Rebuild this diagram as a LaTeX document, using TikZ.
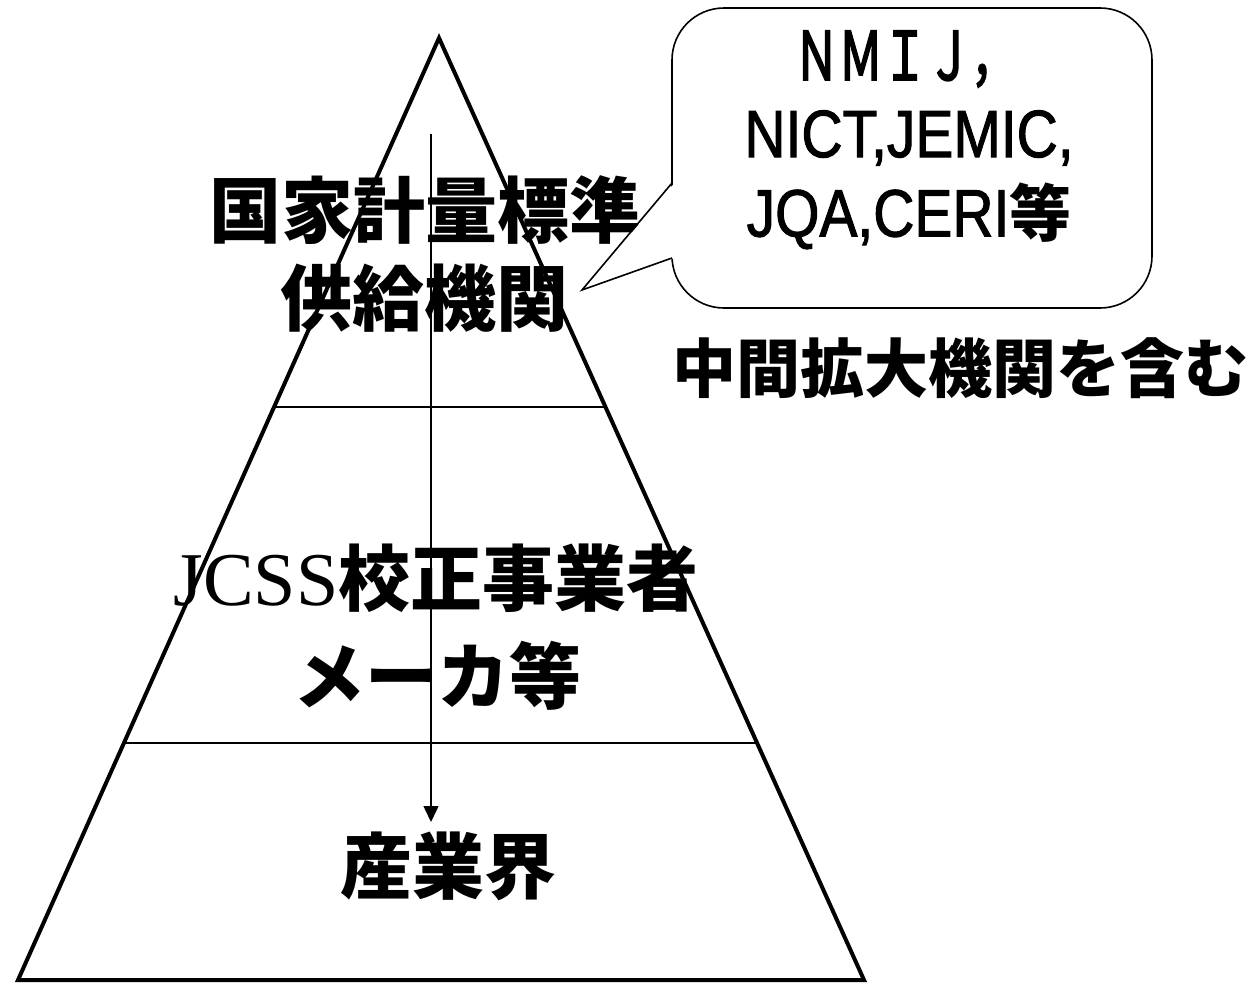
\documentclass[tikz,border=0pt]{standalone}
\usepackage{fontspec}
\setmainfont{Liberation Serif}
\newfontfamily\cjk{Noto Sans CJK JP}
\newfontfamily\arialc{Liberation Sans}[FakeStretch=0.85,FakeBold=1.5]
\newfontfamily\fwfont{Noto Sans CJK JP}[FakeStretch=0.66,FakeBold=2.5]
\usetikzlibrary{calc,arrows.meta}
\tikzset{
  thick line/.style={line width=4pt, line join=miter},
  thin line/.style={line width=1.5pt},
  lbl/.style={inner sep=0pt, anchor=center},
}
\begin{document}
\begin{tikzpicture}[x=1pt,y=-1pt]
\useasboundingbox (0,0) rectangle (1247,985);
% pyramid
\coordinate (apex) at (439,38);
\coordinate (bl) at (18,980);
\coordinate (br) at (864,980);
\draw[thick line] (apex) -- (bl) -- (br) -- cycle;
\draw[thin line] ($(apex)!0.3917!(bl)$) -- ($(apex)!0.3917!(br)$);
\draw[thin line] ($(apex)!0.7484!(bl)$) -- ($(apex)!0.7484!(br)$);
% arrow
\coordinate (as) at (431,134);
\coordinate (ae) at (431,822);
\draw[thin line, -{Triangle[width=15pt,length=16pt]}] (as) -- (ae);
% level labels
\node[lbl] (t1) at (425,210) {\cjk\bfseries\fontsize{72}{80}\selectfont 国家計量標準};
\node[lbl] (t2) at (424,298) {\cjk\bfseries\fontsize{72}{80}\selectfont 供給機関};
\node[lbl] (t3) at (436,578) {\fontsize{76}{80}\selectfont JCSS\cjk\bfseries\fontsize{72}{80}\selectfont 校正事業者};
\node[lbl] (t4) at (437,676) {\cjk\bfseries\fontsize{72}{80}\selectfont メーカ等};
\node[lbl] (t5) at (448,866) {\cjk\bfseries\fontsize{72}{80}\selectfont 産業界};
% callout
\node[draw, line width=1.6pt, rounded corners=52pt, minimum width=480pt, minimum height=300pt, inner sep=0pt] (box) at (912,158) {};
\coordinate (tip) at (582,290);
\coordinate (pu) at (672,183);
\coordinate (pl) at (672,258);
\fill[white] ($(pu)+(2.5,0)$) -- (tip) -- ($(pl)+(2.5,0)$) -- cycle;
\draw[line width=1.6pt] (pu) -- (tip) -- (pl);
\node[lbl] (c1) at (905,59) {\fwfont\fontsize{67}{70}\selectfont ＮＭＩＪ，};
\node[lbl] (c2) at (909,138) {\arialc\fontsize{67}{70}\selectfont NICT,JEMIC,};
\node[lbl] (c3) at (909,216) {\arialc\fontsize{67}{70}\selectfont JQA,CERI{\cjk\bfseries\fontsize{62}{70}\selectfont 等}};
% note
\node[lbl] (note) at (960,368) {\cjk\bfseries\fontsize{64}{70}\selectfont 中間拡大機関を含む};
\end{tikzpicture}
\end{document}
